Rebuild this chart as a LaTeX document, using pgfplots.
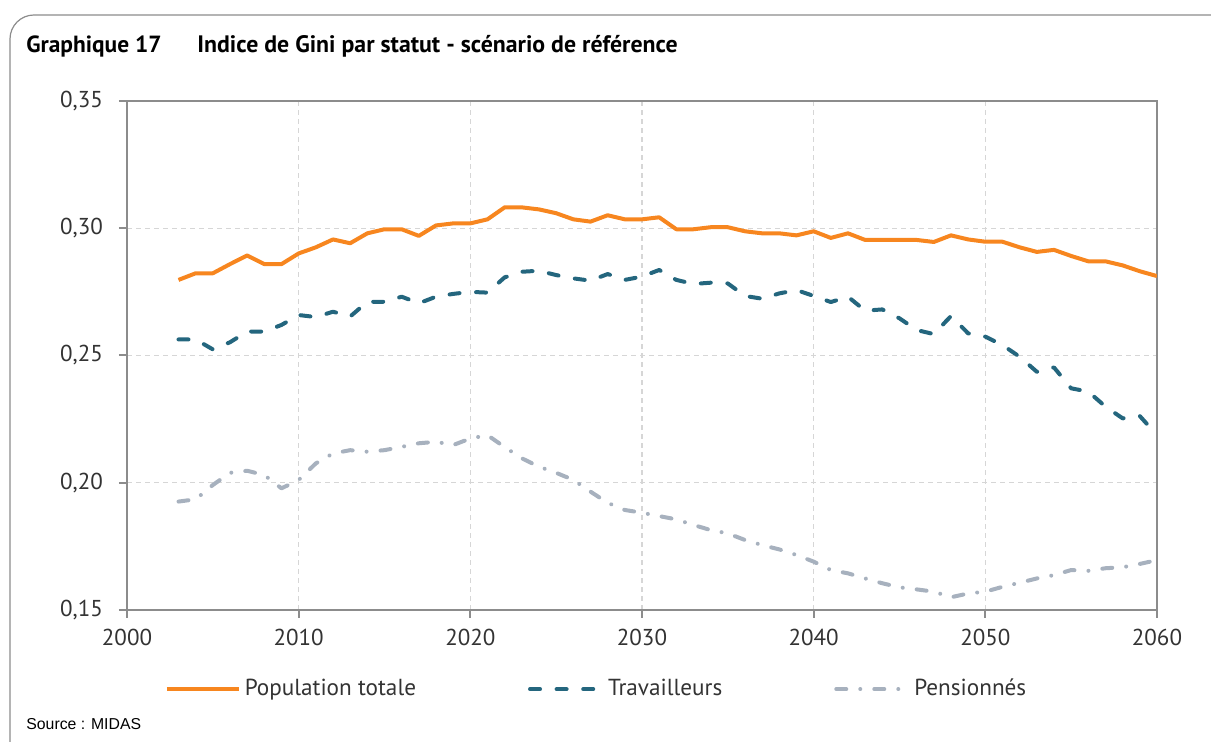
\documentclass[border=0pt]{standalone}
\usepackage{fontspec}
\setmainfont{PT Sans}
\newfontfamily\srcfont{Liberation Sans}
\usepackage{pgfplots}
\pgfplotsset{compat=1.18}
\definecolor{cOr}{HTML}{F7861F}
\definecolor{cTe}{HTML}{24667E}
\definecolor{cGr}{HTML}{A7B1BE}
\definecolor{cAx}{HTML}{8C8C8C}
\definecolor{cGd}{HTML}{D6D6D6}
\definecolor{cTx}{HTML}{333333}
\begin{document}
\begin{tikzpicture}
\useasboundingbox (0pt,0pt) rectangle (605.5pt,371pt);
\begin{scope}
\clip (0pt,0pt) rectangle (605.5pt,371pt);
\draw[color=cAx, line width=0.6pt, rounded corners=12pt] (5pt,-30pt) rectangle (650pt,363.5pt);
\end{scope}
\node[anchor=base west, inner sep=0pt, font=\bfseries\fontsize{11.7}{13}\selectfont] at (13pt,344.5pt) {Graphique 17};
\node[anchor=base west, inner sep=0pt, font=\bfseries\fontsize{11.9}{13}\selectfont] at (98.5pt,344.5pt) {Indice de Gini par statut - scénario de référence};
\node[anchor=base west, inner sep=0pt, font=\srcfont\fontsize{7.9}{9}\selectfont] at (13pt,6pt) {Source : MIDAS};
\begin{axis}[at={(63.5pt,66pt)}, anchor=south west, scale only axis,
  width=515pt, height=254.5pt,
  xmin=2000, xmax=2060, ymin=0.15, ymax=0.35,
  xtick={2000,2010,2020,2030,2040,2050,2060},
  ytick={0.15,0.20,0.25,0.30,0.35},
  xticklabel style={yshift=-2pt, /pgf/number format/.cd, set thousands separator={}, assume math mode=true},
  yticklabel style={xshift=-4.5pt, /pgf/number format/.cd, fixed, fixed zerofill, precision=2, use comma, assume math mode=true},
  ticklabel style={font=\fontsize{11.5}{13}\selectfont, text=cTx},
  axis line style={cAx, line width=1pt},
  tick style={cAx, line width=1pt},
  major tick length=4pt, tick align=outside,
  xtick pos=bottom, ytick pos=left,
  grid=major,
  grid style={cGd, line width=0.7pt, dash pattern=on 2.5pt off 2pt},
  legend columns=3,
  legend style={at={(0.4568,-0.1555)}, anchor=center, draw=none, fill=none,
    font=\fontsize{11.6}{13}\selectfont, text=cTx,
    /tikz/every even column/.append style={column sep=54pt},
    /tikz/every odd column/.append style={column sep=0pt}},
  legend image code/.code={\draw[#1] (0pt,0pt) -- (36pt,0pt);},
]
\addplot[cOr, line width=2pt, line join=round] coordinates {
(2003,0.2797)(2004,0.2823)(2005,0.2823)(2006,0.2859)(2007,0.2893)(2008,0.2859)(2009,0.2859)(2010,0.2901)
(2011,0.2925)(2012,0.2956)(2013,0.2941)(2014,0.2980)(2015,0.2996)(2016,0.2996)(2017,0.2970)(2018,0.3011)
(2019,0.3019)(2020,0.3019)(2021,0.3035)(2022,0.3082)(2023,0.3082)(2024,0.3074)(2025,0.3059)(2026,0.3035)
(2027,0.3026)(2028,0.3051)(2029,0.3035)(2030,0.3035)(2031,0.3043)(2032,0.2996)(2033,0.2996)(2034,0.3004)
(2035,0.3004)(2036,0.2988)(2037,0.2980)(2038,0.2980)(2039,0.2972)(2040,0.2988)(2041,0.2962)(2042,0.2980)
(2043,0.2954)(2044,0.2954)(2045,0.2954)(2046,0.2954)(2047,0.2946)(2048,0.2972)(2049,0.2956)(2050,0.2947)
(2051,0.2947)(2052,0.2925)(2053,0.2907)(2054,0.2915)(2055,0.2891)(2056,0.2870)(2057,0.2870)(2058,0.2854)
(2059,0.2831)(2060,0.2812)};
\addlegendentry{Population totale}
\addplot[cTe, line width=2pt, line cap=round, line join=round, dash pattern=on 5pt off 8.3pt] coordinates {
(2003,0.2563)(2004,0.2563)(2005,0.2524)(2006,0.2552)(2007,0.2594)(2008,0.2594)(2009,0.2620)(2010,0.2659)
(2011,0.2651)(2012,0.2672)(2013,0.2653)(2014,0.2711)(2015,0.2711)(2016,0.2731)(2017,0.2705)(2018,0.2731)
(2019,0.2742)(2020,0.2750)(2021,0.2747)(2022,0.2807)(2023,0.2829)(2024,0.2833)(2025,0.2816)(2026,0.2803)
(2027,0.2794)(2028,0.2820)(2029,0.2797)(2030,0.2810)(2031,0.2836)(2032,0.2797)(2033,0.2781)(2034,0.2786)
(2035,0.2783)(2036,0.2734)(2037,0.2723)(2038,0.2744)(2039,0.2757)(2040,0.2734)(2041,0.2710)(2042,0.2731)
(2043,0.2676)(2044,0.2681)(2045,0.2646)(2046,0.2600)(2047,0.2584)(2048,0.2655)(2049,0.2587)(2050,0.2574)
(2051,0.2541)(2052,0.2495)(2053,0.2436)(2054,0.2453)(2055,0.2371)(2056,0.2358)(2057,0.2299)(2058,0.2253)
(2059,0.2262)(2060,0.2187)};
\addlegendentry{Travailleurs}
\addplot[cGr, line width=2pt, line cap=round, line join=round, dash pattern=on 5pt off 7pt on 0.01pt off 7pt] coordinates {
(2003,0.1926)(2004,0.1935)(2005,0.1991)(2006,0.2039)(2007,0.2047)(2008,0.2030)(2009,0.1978)(2010,0.2011)
(2011,0.2076)(2012,0.2115)(2013,0.2128)(2014,0.2122)(2015,0.2128)(2016,0.2141)(2017,0.2155)(2018,0.2161)
(2019,0.2148)(2020,0.2174)(2021,0.2187)(2022,0.2140)(2023,0.2096)(2024,0.2063)(2025,0.2039)(2026,0.2011)
(2027,0.1965)(2028,0.1921)(2029,0.1893)(2030,0.1882)(2031,0.1869)(2032,0.1856)(2033,0.1834)(2034,0.1814)
(2035,0.1801)(2036,0.1775)(2037,0.1755)(2038,0.1738)(2039,0.1716)(2040,0.1690)(2041,0.1657)(2042,0.1644)
(2043,0.1624)(2044,0.1605)(2045,0.1589)(2046,0.1581)(2047,0.1572)(2048,0.1550)(2049,0.1565)(2050,0.1572)
(2051,0.1591)(2052,0.1607)(2053,0.1624)(2054,0.1637)(2055,0.1657)(2056,0.1654)(2057,0.1664)(2058,0.1668)
(2059,0.1681)(2060,0.1696)};
\addlegendentry{Pensionnés}
\end{axis}
\end{tikzpicture}
\end{document}
